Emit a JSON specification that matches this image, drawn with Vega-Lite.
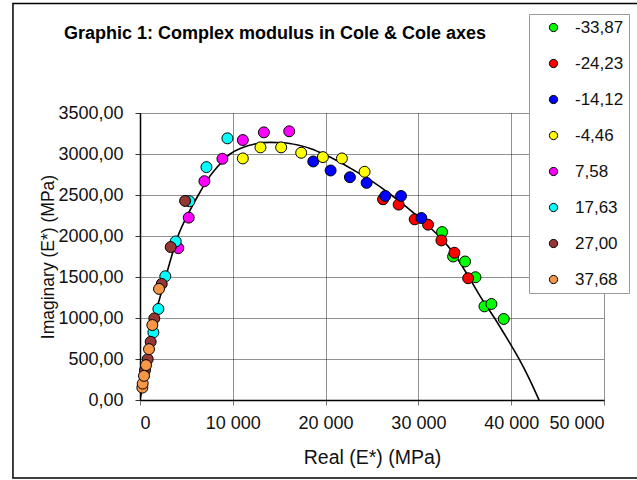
{
  "$schema": "https://vega.github.io/schema/vega-lite/v6.json",
  "width": 464,
  "height": 287,
  "autosize": {"type": "none"},
  "padding": {"left": 140, "top": 113, "right": 33, "bottom": 80},
  "background": "white",
  "config": {
    "locale": {"number": {"decimal": ",", "thousands": " ", "grouping": [3], "currency": ["", ""]}},
    "view": {"stroke": null},
    "font": "Liberation Sans"
  },
  "title": {
    "text": "Graphic 1: Complex modulus in Cole & Cole axes",
    "anchor": "start",
    "frame": "group",
    "dx": -76,
    "offset": -40,
    "font": "Liberation Sans",
    "fontSize": 18,
    "fontWeight": "bold",
    "color": "#000"
  },
  "datasets": {
    "pts": [
      {"re": 32550, "im": 2048, "t": "-33,87"},
      {"re": 33740, "im": 1750, "t": "-33,87"},
      {"re": 35030, "im": 1689, "t": "-33,87"},
      {"re": 36150, "im": 1497, "t": "-33,87"},
      {"re": 37120, "im": 1142, "t": "-33,87"},
      {"re": 37870, "im": 1171, "t": "-33,87"},
      {"re": 39200, "im": 988, "t": "-33,87"},
      {"re": 26190, "im": 2448, "t": "-24,23"},
      {"re": 27870, "im": 2383, "t": "-24,23"},
      {"re": 29600, "im": 2203, "t": "-24,23"},
      {"re": 31040, "im": 2138, "t": "-24,23"},
      {"re": 32480, "im": 1946, "t": "-24,23"},
      {"re": 33880, "im": 1796, "t": "-24,23"},
      {"re": 35360, "im": 1485, "t": "-24,23"},
      {"re": 18670, "im": 2909, "t": "-14,12"},
      {"re": 20540, "im": 2799, "t": "-14,12"},
      {"re": 22620, "im": 2717, "t": "-14,12"},
      {"re": 24420, "im": 2648, "t": "-14,12"},
      {"re": 26430, "im": 2488, "t": "-14,12"},
      {"re": 28130, "im": 2488, "t": "-14,12"},
      {"re": 30320, "im": 2219, "t": "-14,12"},
      {"re": 11080, "im": 2946, "t": "-4,46"},
      {"re": 12980, "im": 3081, "t": "-4,46"},
      {"re": 15210, "im": 3081, "t": "-4,46"},
      {"re": 17370, "im": 3015, "t": "-4,46"},
      {"re": 19710, "im": 2962, "t": "-4,46"},
      {"re": 21760, "im": 2946, "t": "-4,46"},
      {"re": 24200, "im": 2783, "t": "-4,46"},
      {"re": 4130, "im": 1852, "t": "7,58"},
      {"re": 5250, "im": 2224, "t": "7,58"},
      {"re": 6940, "im": 2668, "t": "7,58"},
      {"re": 8880, "im": 2942, "t": "7,58"},
      {"re": 11080, "im": 3170, "t": "7,58"},
      {"re": 13350, "im": 3264, "t": "7,58"},
      {"re": 16080, "im": 3277, "t": "7,58"},
      {"re": 1440, "im": 824, "t": "17,63"},
      {"re": 1980, "im": 1110, "t": "17,63"},
      {"re": 2730, "im": 1509, "t": "17,63"},
      {"re": 3850, "im": 1934, "t": "17,63"},
      {"re": 5320, "im": 2424, "t": "17,63"},
      {"re": 7160, "im": 2840, "t": "17,63"},
      {"re": 9420, "im": 3191, "t": "17,63"},
      {"re": 540, "im": 363, "t": "27,00"},
      {"re": 830, "im": 498, "t": "27,00"},
      {"re": 1150, "im": 710, "t": "27,00"},
      {"re": 1540, "im": 995, "t": "27,00"},
      {"re": 2340, "im": 1416, "t": "27,00"},
      {"re": 3310, "im": 1865, "t": "27,00"},
      {"re": 4860, "im": 2428, "t": "27,00"},
      {"re": 250, "im": 151, "t": "37,68"},
      {"re": 290, "im": 200, "t": "37,68"},
      {"re": 430, "im": 294, "t": "37,68"},
      {"re": 650, "im": 425, "t": "37,68"},
      {"re": 970, "im": 620, "t": "37,68"},
      {"re": 1330, "im": 914, "t": "37,68"},
      {"re": 2050, "im": 1355, "t": "37,68"}
    ],
    "fit": [
      {"re": 0, "im": 0}, {"re": 400, "im": 250}, {"re": 830, "im": 500},
      {"re": 1160, "im": 750}, {"re": 1545, "im": 1000}, {"re": 2150, "im": 1250},
      {"re": 2770, "im": 1500}, {"re": 3400, "im": 1750}, {"re": 4100, "im": 2000},
      {"re": 5100, "im": 2250}, {"re": 6290, "im": 2500}, {"re": 7350, "im": 2700},
      {"re": 8400, "im": 2850}, {"re": 9710, "im": 3000}, {"re": 11000, "im": 3075},
      {"re": 12500, "im": 3125}, {"re": 14000, "im": 3142}, {"re": 15500, "im": 3138},
      {"re": 17000, "im": 3110}, {"re": 18500, "im": 3062}, {"re": 19780, "im": 3000},
      {"re": 21300, "im": 2915}, {"re": 23000, "im": 2805}, {"re": 24820, "im": 2681},
      {"re": 27080, "im": 2500}, {"re": 28800, "im": 2345}, {"re": 30500, "im": 2180},
      {"re": 32190, "im": 2000}, {"re": 33800, "im": 1790}, {"re": 35430, "im": 1500},
      {"re": 36800, "im": 1240}, {"re": 38200, "im": 1000}, {"re": 39500, "im": 760},
      {"re": 40800, "im": 510}, {"re": 41900, "im": 270}, {"re": 43000, "im": 0}
    ]
  },
  "layer": [
    {
      "data": {"values": [{}]},
      "mark": {"type": "rect", "filled": false, "stroke": "#000", "strokeWidth": 1.5, "clip": false},
      "encoding": {
        "x": {"datum": -13690, "type": "quantitative", "title": "Real (E*) (MPa)"},
        "x2": {"datum": 54440},
        "y": {"datum": 4835, "type": "quantitative", "title": "Imaginary (E*)  (MPa)"},
        "y2": {"datum": -952}
      }
    },
    {
      "data": {"name": "fit"},
      "mark": {"type": "line", "color": "#000", "strokeWidth": 1.6, "interpolate": "monotone", "clip": true},
      "encoding": {
        "x": {"field": "re", "type": "quantitative", "title": "Real (E*) (MPa)"},
        "y": {"field": "im", "type": "quantitative", "title": "Imaginary (E*)  (MPa)"},
        "order": {"field": "re", "type": "quantitative"}
      }
    },
    {
      "data": {"name": "pts"},
      "mark": {"type": "point", "shape": "circle", "filled": true, "size": 120, "stroke": "#000", "strokeWidth": 1, "opacity": 1},
      "encoding": {
        "x": {
          "field": "re", "type": "quantitative", "title": "Real (E*) (MPa)",
          "scale": {"domain": [0, 50000], "nice": false, "zero": false},
          "axis": {
            "values": [0, 10000, 20000, 30000, 40000, 50000],
            "format": ",.0f",
            "grid": true, "gridColor": "#222", "gridDash": [1, 1], "gridWidth": 1,
            "domainColor": "#000", "domainWidth": 1.5,
            "tickColor": "#777", "tickSize": 5,
            "labelFont": "Liberation Sans", "labelFontSize": 18, "labelColor": "#111", "labelPadding": 9,
            "titleFont": "Liberation Sans", "titleFontSize": 19.5, "titleFontWeight": "normal", "titleColor": "#111", "titlePadding": 16
          }
        },
        "y": {
          "field": "im", "type": "quantitative", "title": "Imaginary (E*)  (MPa)",
          "scale": {"domain": [0, 3500], "nice": false, "zero": false},
          "axis": {
            "values": [0, 500, 1000, 1500, 2000, 2500, 3000, 3500],
            "format": ".2f",
            "grid": true, "gridColor": "#222", "gridDash": [1, 1], "gridWidth": 1,
            "domainColor": "#000", "domainWidth": 1.5,
            "tickColor": "#333", "tickSize": 5,
            "labelFont": "Liberation Sans", "labelFontSize": 18, "labelColor": "#111", "labelPadding": 12,
            "titleFont": "Liberation Sans", "titleFontSize": 17.5, "titleFontWeight": "normal", "titleColor": "#111", "titlePadding": 0
          }
        },
        "color": {
          "field": "t", "type": "nominal",
          "sort": ["-33,87", "-24,23", "-14,12", "-4,46", "7,58", "17,63", "27,00", "37,68"],
          "scale": {
            "domain": ["-33,87", "-24,23", "-14,12", "-4,46", "7,58", "17,63", "27,00", "37,68"],
            "range": ["#00ff00", "#ff0000", "#0000ff", "#ffff00", "#ff00ff", "#00ffff", "#953735", "#f79646"]
          },
          "legend": {
            "title": null,
            "orient": "none",
            "legendX": 389,
            "legendY": -99,
            "direction": "vertical",
            "fillColor": "#fff",
            "strokeColor": "#999",
            "padding": 5,
            "rowPadding": 18,
            "symbolType": "circle",
            "symbolSize": 68,
            "symbolStrokeColor": "#000",
            "symbolStrokeWidth": 1,
            "symbolOffset": 11,
            "labelOffset": 13,
            "labelFont": "Liberation Sans",
            "labelFontSize": 17,
            "labelColor": "#111"
          }
        }
      }
    }
  ]
}
